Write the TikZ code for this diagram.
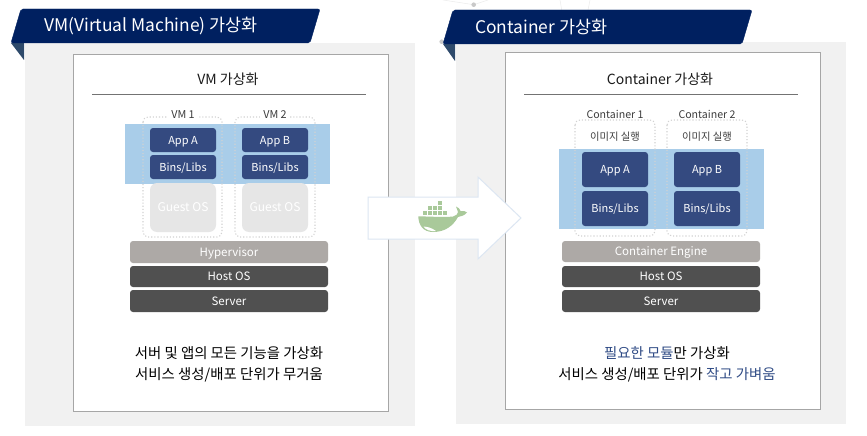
\documentclass[tikz,border=0pt]{standalone}
\usepackage{fontspec}
\usepackage{xcolor}
\usetikzlibrary{positioning}
\setmainfont{Noto Sans CJK KR}
\definecolor{banner}{HTML}{002060}
\definecolor{fold}{HTML}{2E4A6B}
\definecolor{panelbg}{HTML}{F1F1F1}
\definecolor{cardline}{HTML}{A6A6A6}
\definecolor{bandblue}{HTML}{A9CDE9}
\definecolor{appblue}{HTML}{344A80}
\definecolor{guestgray}{HTML}{E6E6E6}
\definecolor{enginegray}{HTML}{ADA9A6}
\definecolor{hostgray}{HTML}{505050}
\definecolor{dotgray}{HTML}{D2D2D2}
\definecolor{arrowline}{HTML}{DCE6F2}
\definecolor{whale}{HTML}{A9C99A}
\definecolor{accenttext}{HTML}{2F4B85}
\definecolor{ink}{HTML}{1A1A1A}
\definecolor{netgray}{HTML}{C9C9C9}
\definecolor{netline}{HTML}{EDEDED}
\tikzset{
  bannerbox/.style={fill=banner,draw=banner,line width=0.4pt,rounded corners=2pt},
  foldtri/.style={fill=fold},
  panel/.style={fill=panelbg},
  card/.style={draw=cardline,fill=white,line width=1pt},
  rule/.style={draw=black!55,line width=0.8pt},
  band/.style={fill=bandblue},
  dotbox/.style={draw=dotgray,line width=1.1pt,dotted,rounded corners=5pt},
  bannertext/.style={text=white,anchor=west,inner sep=0pt,font=\fontsize{17.4}{20}\selectfont},
  cardtitle/.style={text=ink,inner sep=0pt,font=\fontsize{14}{16}\selectfont},
  vmlabel/.style={text=ink!85,fill=white,inner xsep=3pt,inner ysep=0pt,font=\fontsize{10.8}{13}\selectfont},
  runlabel/.style={text=ink!85,inner sep=0pt,font=\fontsize{10.3}{13}\selectfont},
  capline/.style={text=black,inner sep=0pt,font=\fontsize{14.4}{16}\selectfont},
  module/.style={inner sep=0pt,rounded corners=3pt,text=white,text height=8pt,text depth=0pt,font=\fontsize{11}{13}\selectfont},
  appbox/.style={module,fill=appblue,minimum width=66pt},
  guestbox/.style={module,fill=guestgray,minimum width=66pt,rounded corners=7pt,font=\fontsize{12}{13}\selectfont},
  layerbox/.style={module,minimum width=198pt,font=\fontsize{11.5}{13}\selectfont},
  hubarrow/.style={draw=arrowline,fill=white,line width=1pt}
}
\begin{document}
\begin{tikzpicture}[x=1pt,y=-1pt]
  \useasboundingbox (0,0) rectangle (867,436);
  % faint network behind the right banner
  \draw[netline,line width=0.6pt] (443,0) -- (473.7,4.7) -- (488,0);
  \draw[netline,line width=0.6pt] (560,0) -- (561.7,10);
  \draw[netline,line width=0.6pt] (590,0) -- (588,10);
  \fill[netgray] (473.7,4.7) circle (2.3pt);
  \fill[netgray] (441.7,41.7) circle (2.3pt);
  % left panel
  \fill[panel] (25,43) rectangle (415,426);
  \draw[card] (73,55) rectangle (388.5,411);
  \fill[foldtri] (11,43) -- (24,43) -- (24,60) -- cycle;
  \draw[bannerbox] (11,43) -- (21,9) -- (320,9) -- (310,43) -- cycle;
  \node[bannertext] (vmhead) at (44,26) {VM(Virtual Machine) 가상화};
  \node[cardtitle] (vmtitle) at (228,79) {VM 가상화};
  \draw[rule] (92,94.5) -- (366,94.5);
  \fill[band] (125,124) rectangle (330,184);
  \draw[dotbox] (143,117) rectangle (222,237);
  \draw[dotbox] (235,117) rectangle (315,237);
  \node[vmlabel] (vmone) at (183,115) {VM 1};
  \node[vmlabel] (vmtwo) at (275,115) {VM 2};
  \node[appbox,minimum height=24pt] (vmappa) at (183,140) {App A};
  \node[appbox,minimum height=24pt] (vmbinsa) at (183,167) {Bins/Libs};
  \node[guestbox,minimum height=49pt] (guesta) at (183,207.5) {Guest OS};
  \node[appbox,minimum height=24pt] (vmappb) at (275,140) {App B};
  \node[appbox,minimum height=24pt] (vmbinsb) at (275,167) {Bins/Libs};
  \node[guestbox,minimum height=49pt] (guestb) at (275,207.5) {Guest OS};
  \node[layerbox,fill=enginegray,minimum height=22pt] (hyper) at (229,252) {Hypervisor};
  \node[layerbox,fill=hostgray,minimum height=21pt] (vmhost) at (229,276.5) {Host OS};
  \node[layerbox,fill=hostgray,minimum height=22pt] (vmserver) at (229,301) {Server};
  \node[capline] (vmcapa) at (229,353) {서버 및 앱의 모든 기능을 가상화};
  \node[capline] (vmcapb) at (229,375) {서비스 생성/배포 단위가 무거움};
  % right panel
  \fill[panel] (456,42) rectangle (846,424);
  \draw[card] (505,53) rectangle (820.5,409);
  \fill[foldtri] (443,44) -- (455,44) -- (455,61) -- cycle;
  \draw[bannerbox] (443,44) -- (453,10) -- (752,10) -- (742,44) -- cycle;
  \node[bannertext] (ctrhead) at (475,27) {Container 가상화};
  \node[cardtitle] (ctrtitle) at (660,79) {Container 가상화};
  \draw[rule] (524,94.5) -- (798,94.5);
  \fill[band] (559,149) rectangle (764,229);
  \draw[dotbox] (575,120) rectangle (655,236);
  \draw[dotbox] (667,120) rectangle (747,236);
  \node[vmlabel,font=\fontsize{10.6}{13}\selectfont] (ctrone) at (615,114) {Container 1};
  \node[vmlabel,font=\fontsize{10.6}{13}\selectfont] (ctrtwo) at (707,114) {Container 2};
  \node[runlabel] (runa) at (615,137) {이미지 실행};
  \node[runlabel] (runb) at (707,137) {이미지 실행};
  \node[appbox,minimum height=35pt] (ctrappa) at (615,169.5) {App A};
  \node[appbox,minimum height=35pt] (ctrbinsa) at (615,208.5) {Bins/Libs};
  \node[appbox,minimum height=35pt] (ctrappb) at (707,169.5) {App B};
  \node[appbox,minimum height=35pt] (ctrbinsb) at (707,208.5) {Bins/Libs};
  \node[layerbox,fill=enginegray,minimum height=21pt] (engine) at (661,251.5) {Container Engine};
  \node[layerbox,fill=hostgray,minimum height=21pt] (ctrhost) at (661,276.5) {Host OS};
  \node[layerbox,fill=hostgray,minimum height=22pt] (ctrserver) at (661,301) {Server};
  \node[capline] (ctrcapa) at (667,353) {\textcolor{accenttext}{필요한 모듈}만 가상화};
  \node[capline] (ctrcapb) at (667,375) {서비스 생성/배포 단위가 \textcolor{accenttext}{작고 가벼움}};
  % arrow with whale
  \draw[hubarrow] (368,197) -- (478,197) -- (478,177) -- (521,218) -- (478,259) -- (478,239) -- (368,239) -- cycle;
  \foreach \x in {0,1,2,3,4}
    \fill[whale] (423.4+\x*5,210.8) rectangle +(4,4);
  \foreach \x in {1,2,3}
    \fill[whale] (423.4+\x*5,205.8) rectangle +(4,4);
  \fill[whale] (438.4,200.8) rectangle +(4,4);
  \fill[whale] (418.3,216.3) .. controls (430,216.5) and (445,217.5) .. (453,216.5)
    .. controls (456,216) and (458,214) .. (458,212)
    -- (456,206.5) .. controls (458.5,207.5) and (460,209) .. (460.5,211)
    .. controls (463,210.5) and (465.5,211) .. (467,212.5)
    .. controls (464.5,215.5) and (461,216.5) .. (458,217)
    .. controls (453,226) and (445,232) .. (433,232)
    .. controls (423,232) and (418.5,225) .. (418.3,216.3) -- cycle;
  \fill[white] (423.5,226.5) .. controls (428,227) and (431,227.5) .. (436,231)
    .. controls (430,231.5) and (426,230) .. (423.5,226.5) -- cycle;
\end{tikzpicture}
\end{document}
